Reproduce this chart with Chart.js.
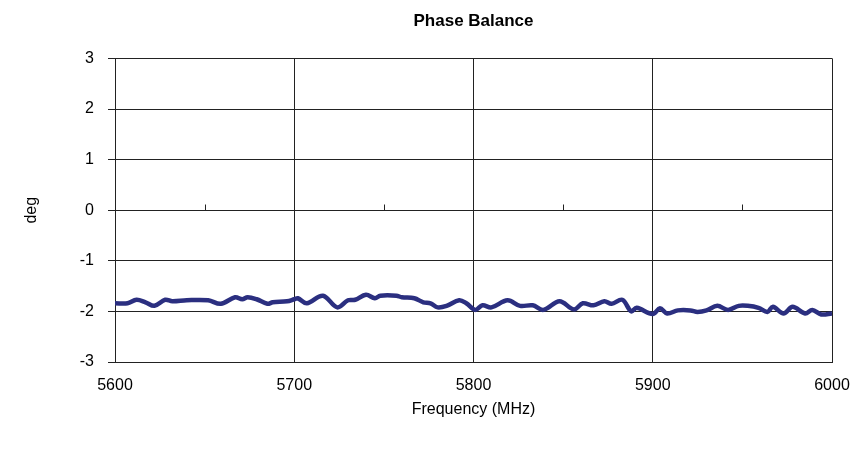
<!DOCTYPE html>
<html>
<head>
<meta charset="utf-8">
<script src="https://cdn.jsdelivr.net/npm/chart.js@4/dist/chart.umd.min.js"></script>
<style>
html,body{margin:0;padding:0;background:#fff;}
#wrap{width:860px;height:449px;}
</style>
</head>
<body>
<div id="wrap"><canvas id="c" width="860" height="449"></canvas></div>
<script>
const freq = [5600,5607,5612,5617,5622,5628,5632,5640,5652,5659,5667,5671,5674,5679,5685,5688,5696,5700,
  5702,5707,5716,5724,5730,5734,5740,5745,5748,5757,5760,5767,5772,5776,5780,5785,5792,5796,5801,
  5805,5810,5819,5826,5833,5839,5848,5856,5861,5867,5873,5877,5883,5888,5891,5900,
  5904,5908,5914,5921,5925,5930,5936,5942,5948,5953,5959,5964,5967,5973,5978,5985,5989,5994,6000];
const phase = [-1.84,-1.84,-1.77,-1.82,-1.89,-1.77,-1.80,-1.78,-1.78,-1.85,-1.72,-1.76,-1.72,-1.76,-1.85,-1.82,-1.80,-1.76,
  -1.74,-1.84,-1.69,-1.92,-1.78,-1.77,-1.67,-1.74,-1.69,-1.69,-1.72,-1.74,-1.82,-1.84,-1.92,-1.89,-1.78,-1.84,-1.97,
  -1.88,-1.92,-1.78,-1.89,-1.88,-1.97,-1.80,-1.96,-1.84,-1.88,-1.80,-1.85,-1.77,-2.00,-1.93,-2.05,
  -1.94,-2.04,-1.98,-1.98,-2.01,-1.98,-1.89,-1.97,-1.89,-1.89,-1.93,-2.01,-1.91,-2.04,-1.91,-2.04,-1.97,-2.06,-2.04];
const xTicks = [5600,5700,5800,5900,6000];
const yTicks = [-3,-2,-1,0,1,2,3];
const minorTicks = [5650,5750,5850,5950];

const FONT = "'Liberation Sans', Arial, sans-serif";
const GRID = '#222';

const zeroAxisTicks = {
  id:'zeroAxisTicks',
  afterDatasetsDraw(chart){
    const {ctx, scales:{x,y}} = chart;
    const y0 = Math.round(y.getPixelForValue(0)) + 0.5;
    ctx.save();
    ctx.strokeStyle = GRID;
    ctx.lineWidth = 1;
    ctx.beginPath();
    minorTicks.forEach(v=>{
      const px = Math.round(x.getPixelForValue(v)) + 0.5;
      ctx.moveTo(px, y0);
      ctx.lineTo(px, y0 - 6);
    });
    ctx.stroke();
    ctx.restore();
  }
};

new Chart(document.getElementById('c'), {
  type:'line',
  data:{
    datasets:[{
      data: freq.map((f,i)=>({x:f, y:phase[i]})),
      borderColor:'#2b2f80',
      borderWidth:4.5,
      pointRadius:0,
      tension:0.35,
      fill:false
    }]
  },
  options:{
    responsive:false,
    animation:false,
    layout:{padding:{left:0,right:28,top:0,bottom:0}},
    plugins:{
      legend:{display:false},
      tooltip:{enabled:false},
      title:{
        display:true,
        fullSize:false,
        text:'Phase Balance',
        color:'#000',
        font:{family:FONT,size:17,weight:'bold'},
        padding:{top:11,bottom:27}
      }
    },
    scales:{
      x:{
        type:'linear',
        min:5600,max:6000,
        afterBuildTicks(s){ s.ticks = xTicks.map(v=>({value:v})); },
        afterFit(s){ s.height = 87; s.paddingRight = 0; s.paddingLeft = 0; },
        grid:{color:GRID,lineWidth:1,drawTicks:false},
        border:{color:GRID,width:1},
        ticks:{color:'#000',font:{family:FONT,size:16},padding:14,maxRotation:0,callback:v=>String(v)},
        title:{display:true,text:'Frequency (MHz)',color:'#000',font:{family:FONT,size:16},padding:{top:0,bottom:30}}
      },
      y:{
        min:-3,max:3,
        afterBuildTicks(s){ s.ticks = yTicks.map(v=>({value:v})); },
        afterFit(s){ s.width = 115; },
        grid:{color:GRID,lineWidth:1,drawTicks:true,tickLength:7},
        border:{color:GRID,width:1},
        ticks:{color:'#000',font:{family:FONT,size:16},padding:14,callback:v=>String(v)},
        title:{display:true,text:'deg',color:'#000',font:{family:FONT,size:16},padding:{top:22,bottom:0}}
      }
    }
  },
  plugins:[zeroAxisTicks]
});
</script>
</body>
</html>
